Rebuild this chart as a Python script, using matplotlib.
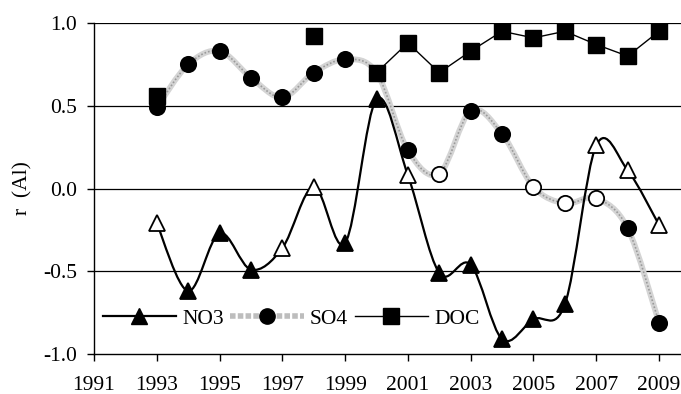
import numpy as np
import matplotlib
matplotlib.use("Agg")
import matplotlib.pyplot as plt
from matplotlib.path import Path
from matplotlib.patches import PathPatch
from matplotlib.lines import Line2D

plt.rcParams['font.family'] = ['Liberation Serif', 'DejaVu Serif']

years = list(range(1993, 2010))
no3 = [-0.21, -0.62, -0.27, -0.49, -0.36, 0.01, -0.33, 0.54, 0.08, -0.51, -0.46, -0.91, -0.79, -0.70, 0.26, 0.11, -0.22]
no3_sig = [0, 1, 1, 1, 0, 0, 1, 1, 0, 1, 1, 1, 1, 1, 0, 0, 0]
so4 = [0.49, 0.75, 0.83, 0.67, 0.55, 0.70, 0.78, 0.70, 0.23, 0.09, 0.47, 0.33, 0.01, -0.09, -0.06, -0.24, -0.81]
so4_sig = [1, 1, 1, 1, 1, 1, 1, 1, 1, 0, 1, 1, 0, 0, 0, 1, 1]
doc = [0.56, np.nan, np.nan, np.nan, np.nan, 0.92, np.nan, 0.70, 0.88, 0.70, 0.83, 0.95, 0.91, 0.95, 0.87, 0.80, 0.95]

xticks = list(range(1991, 2010, 2))
yticks = [-1.0, -0.5, 0.0, 0.5, 1.0]


def smooth_path(x, y):
    P = np.column_stack([x, y]).astype(float)
    n = len(P)
    verts = [tuple(P[0])]
    codes = [Path.MOVETO]
    for i in range(n - 1):
        p0 = P[i - 1] if i > 0 else P[i]
        p3 = P[i + 2] if i + 2 < n else P[i + 1]
        c1 = P[i] + (P[i + 1] - p0) / 6.0
        c2 = P[i + 1] - (p3 - P[i]) / 6.0
        verts += [tuple(c1), tuple(c2), tuple(P[i + 1])]
        codes += [Path.CURVE4] * 3
    return Path(verts, codes)


fig = plt.figure(figsize=(6.81, 3.94), dpi=100)
ax = fig.add_axes([94 / 681, 1 - 354 / 394, 1 - 94 / 681, (354 - 23) / 394])
ax.set_xlim(1991, 2009.7)
ax.set_ylim(-1.0, 1.0)

for yv in [-0.5, 0.0, 0.5, 1.0]:
    ax.axhline(yv, color='black', lw=0.9, zorder=1)

yr = np.array(years, dtype=float)
ms = 11
fs = 15.5

# SO4 smoothed grey textured line
p_so4 = smooth_path(yr, so4)
ax.add_patch(PathPatch(p_so4, facecolor='none', edgecolor='#d4d4d4', lw=4.2, zorder=2))
ax.add_patch(PathPatch(p_so4, facecolor='none', edgecolor='#9a9a9a', lw=1.2, ls=(0, (1, 1.2)), zorder=2.1))

# NO3 smoothed black line
p_no3 = smooth_path(yr, no3)
ax.add_patch(PathPatch(p_no3, facecolor='none', edgecolor='black', lw=1.6, zorder=3))

# markers
for x, v, s in zip(years, so4, so4_sig):
    ax.plot([x], [v], 'o', ms=ms, mfc='black' if s else 'white', mec='black', mew=1.3, zorder=4)
for x, v, s in zip(years, no3, no3_sig):
    ax.plot([x], [v], '^', ms=ms, mfc='black' if s else 'white', mec='black', mew=1.3, zorder=4)

# DOC straight line with squares
ax.plot(years, doc, '-', color='black', lw=1.0, marker='s', ms=ms, mfc='black', mec='black', zorder=5)

ax.set_xticks(xticks)
ax.set_yticks(yticks)
ax.set_yticklabels(['%.1f' % t for t in yticks])
ax.tick_params(axis='both', labelsize=fs, length=5, width=1, color='black')
ax.tick_params(axis='x', pad=11)
ax.tick_params(axis='y', pad=7)
for side in ['top', 'right']:
    ax.spines[side].set_visible(False)
ax.spines['left'].set_linewidth(1.0)
ax.spines['bottom'].set_linewidth(1.0)
ax.set_ylabel('r  (Al)', fontsize=fs, labelpad=8)

h_no3 = Line2D([], [], color='black', lw=1.6, marker='^', ms=ms, mfc='black', mec='black')
h_so4 = Line2D([], [], color='#bdbdbd', lw=4, ls=(0, (1, 0.4)), marker='o', ms=ms, mfc='black', mec='black')
h_doc = Line2D([], [], color='black', lw=1.0, marker='s', ms=ms, mfc='black', mec='black')
leg = ax.legend([h_no3, h_so4, h_doc], ['NO3', 'SO4', 'DOC'], ncol=3, loc='lower left',
                bbox_to_anchor=(0.0, 0.05), frameon=False, fontsize=fs,
                handlelength=3.4, handletextpad=0.3, columnspacing=0.3, borderaxespad=0.0)

fig.savefig('out.png', dpi=100)
